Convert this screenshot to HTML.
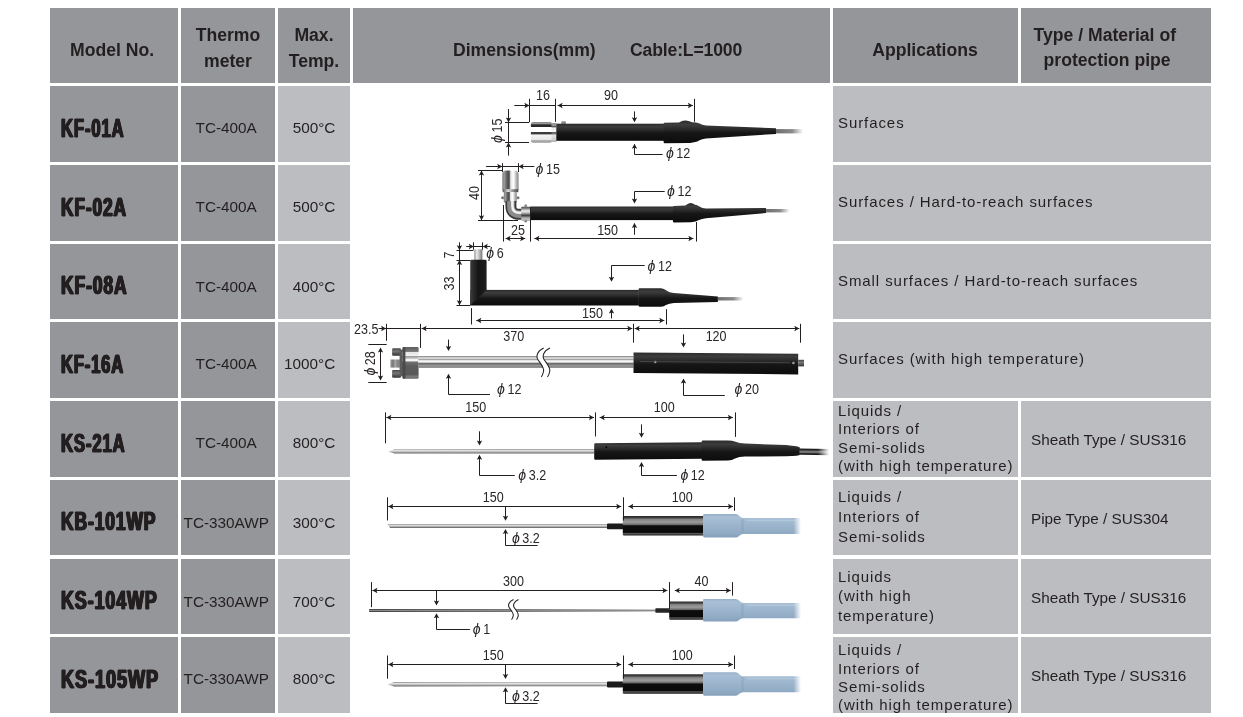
<!DOCTYPE html>
<html lang="en"><head><meta charset="utf-8"><title>Probe table</title>
<style>
html,body{margin:0;padding:0;background:#fff;}
body{width:1243px;height:717px;position:relative;overflow:hidden;font-family:"Liberation Sans",sans-serif;color:#231f20;}
.c{position:absolute;box-sizing:border-box;}
.h{display:flex;align-items:center;justify-content:center;text-align:center;font-weight:bold;font-size:17.6px;line-height:25.7px;}
.ht{position:relative;top:3.5px}
.h0 .ht{top:5.6px;left:-1.9px}
.h4 .ht{top:5.8px;left:-0.5px}
.h5 .ht{left:-11.2px;top:3.2px}
.h5 .ht i{font-style:normal;position:relative;left:2.3px}
.h3 .ht{width:100%;text-align:left}
.d1{position:absolute;left:100px;top:-10.5px}
.d2{position:absolute;left:277px;top:-10.5px;letter-spacing:-0.15px}
.m{display:flex;align-items:center;}
.mt{display:inline-block;font-weight:bold;font-size:25.2px;letter-spacing:1.3px;margin-left:11.2px;transform-origin:0 50%;white-space:nowrap;-webkit-text-stroke:0.8px #231f20;text-shadow:0.5px 0 0 #231f20,-0.5px 0 0 #231f20,1px 0 0 #231f20,-1px 0 0 #231f20;position:relative;top:4.3px}
.t{display:flex;align-items:center;justify-content:center;font-size:15.3px;}
.t span{position:relative;top:3.7px}
.t1 span{left:-1.8px}
.a{display:flex;align-items:center;font-size:15px;letter-spacing:0.92px;}
.al{margin-left:5px;line-height:18.4px;position:relative;top:-1px}
.a3 .al{line-height:20px;top:-1px}
.a4 .al{top:0px}
.ty{display:flex;align-items:center;font-size:15.3px;}
.ty span{margin-left:10px;position:relative;top:0px}
svg{position:absolute;left:0;top:0}
.dm polyline{fill:none;stroke:#231f20;stroke-width:1}
.dm .ah{fill:#231f20;stroke:none}
.dm text{font-family:"Liberation Sans",sans-serif;font-size:13.8px;fill:#2b2728}
.dm .ph{font-style:italic;font-size:15.5px}
</style></head>
<body>
<div class="c h h0" style="left:50px;top:8px;width:128px;height:74.50px;background:#959699"><div class="ht">Model No.</div></div>
<div class="c h h1" style="left:181px;top:8px;width:94px;height:74.50px;background:#959699"><div class="ht">Thermo<br>meter</div></div>
<div class="c h h2" style="left:278px;top:8px;width:72px;height:74.50px;background:#959699"><div class="ht">Max.<br>Temp.</div></div>
<div class="c h h3" style="left:353px;top:8px;width:477px;height:74.50px;background:#959699"><div class="ht"><span class="d1">Dimensions(mm)</span><span class="d2">Cable:L=1000</span></div></div>
<div class="c h h4" style="left:833px;top:8px;width:185px;height:74.50px;background:#959699"><div class="ht">Applications</div></div>
<div class="c h h5" style="left:1021px;top:8px;width:190px;height:74.50px;background:#959699"><div class="ht">Type / Material of<br><i>protection pipe</i></div></div>
<div class="c m" style="left:50px;top:86.1px;width:128px;height:75.60px;background:#959699"><span class="mt" style="top:4.3px;transform:scaleX(0.661)">KF-01A</span></div>
<div class="c t t1" style="left:181px;top:86.1px;width:94px;height:75.60px;background:#959699"><span style="top:4.5px">TC-400A</span></div>
<div class="c t" style="left:278px;top:86.1px;width:72px;height:75.60px;background:#bcbdc0"><span style="top:4.5px">500°C</span></div>
<div class="c a" style="left:833px;top:86.1px;width:378px;height:75.60px;background:#bcbdc0"><div class="al" style="top:-1.0px">Surfaces</div></div>
<div class="c m" style="left:50px;top:165.1px;width:128px;height:75.60px;background:#959699"><span class="mt" style="top:4.3px;transform:scaleX(0.687)">KF-02A</span></div>
<div class="c t t1" style="left:181px;top:165.1px;width:94px;height:75.60px;background:#959699"><span style="top:4.5px">TC-400A</span></div>
<div class="c t" style="left:278px;top:165.1px;width:72px;height:75.60px;background:#bcbdc0"><span style="top:4.5px">500°C</span></div>
<div class="c a" style="left:833px;top:165.1px;width:378px;height:75.60px;background:#bcbdc0"><div class="al" style="top:-1.0px">Surfaces / Hard-to-reach surfaces</div></div>
<div class="c m" style="left:50px;top:244.3px;width:128px;height:74.40px;background:#959699"><span class="mt" style="top:4.3px;transform:scaleX(0.693)">KF-08A</span></div>
<div class="c t t1" style="left:181px;top:244.3px;width:94px;height:74.40px;background:#959699"><span style="top:5.3px">TC-400A</span></div>
<div class="c t" style="left:278px;top:244.3px;width:72px;height:74.40px;background:#bcbdc0"><span style="top:5.3px">400°C</span></div>
<div class="c a" style="left:833px;top:244.3px;width:378px;height:74.40px;background:#bcbdc0"><div class="al" style="top:0.0px">Small surfaces / Hard-to-reach surfaces</div></div>
<div class="c m" style="left:50px;top:322.05px;width:128px;height:75.65px;background:#959699"><span class="mt" style="top:4.9px;transform:scaleX(0.657)">KF-16A</span></div>
<div class="c t t1" style="left:181px;top:322.05px;width:94px;height:75.65px;background:#959699"><span style="top:4.4px">TC-400A</span></div>
<div class="c t" style="left:278px;top:322.05px;width:72px;height:75.65px;background:#bcbdc0"><span style="top:4.4px;left:-4.4px">1000°C</span></div>
<div class="c a" style="left:833px;top:322.05px;width:378px;height:75.65px;background:#bcbdc0"><div class="al" style="top:-1.0px">Surfaces (with high temperature)</div></div>
<div class="c m" style="left:50px;top:401.05px;width:128px;height:75.65px;background:#959699"><span class="mt" style="top:4.3px;transform:scaleX(0.662)">KS-21A</span></div>
<div class="c t t1" style="left:181px;top:401.05px;width:94px;height:75.65px;background:#959699"><span style="top:4.4px">TC-400A</span></div>
<div class="c t" style="left:278px;top:401.05px;width:72px;height:75.65px;background:#bcbdc0"><span style="top:4.4px">800°C</span></div>
<div class="c a a4" style="left:833px;top:401.05px;width:185px;height:75.65px;background:#bcbdc0"><div class="al" style="top:0.0px">Liquids /<br>Interiors of<br>Semi-solids<br>(with high temperature)</div></div>
<div class="c ty" style="left:1021px;top:401.05px;width:190px;height:75.65px;background:#bcbdc0"><span style="top:0.7px">Sheath Type / SUS316</span></div>
<div class="c m" style="left:50px;top:480.2px;width:128px;height:74.40px;background:#959699"><span class="mt" style="top:4.3px;transform:scaleX(0.692)">KB-101WP</span></div>
<div class="c t t1" style="left:181px;top:480.2px;width:94px;height:74.40px;background:#959699"><span style="top:5.5px">TC-330AWP</span></div>
<div class="c t" style="left:278px;top:480.2px;width:72px;height:74.40px;background:#bcbdc0"><span style="top:5.5px">300°C</span></div>
<div class="c a a3" style="left:833px;top:480.2px;width:185px;height:74.40px;background:#bcbdc0"><div class="al" style="top:-0.2px">Liquids /<br>Interiors of<br>Semi-solids</div></div>
<div class="c ty" style="left:1021px;top:480.2px;width:190px;height:74.40px;background:#bcbdc0"><span style="top:1.8px">Pipe Type / SUS304</span></div>
<div class="c m" style="left:50px;top:559.2px;width:128px;height:74.40px;background:#959699"><span class="mt" style="top:4.6px;transform:scaleX(0.709)">KS-104WP</span></div>
<div class="c t t1" style="left:181px;top:559.2px;width:94px;height:74.40px;background:#959699"><span style="top:5.8px">TC-330AWP</span></div>
<div class="c t" style="left:278px;top:559.2px;width:72px;height:74.40px;background:#bcbdc0"><span style="top:5.8px">700°C</span></div>
<div class="c a a3" style="left:833px;top:559.2px;width:185px;height:74.40px;background:#bcbdc0"><div class="al" style="top:-0.3px;line-height:19.6px">Liquids<br>(with high<br>temperature)</div></div>
<div class="c ty" style="left:1021px;top:559.2px;width:190px;height:74.40px;background:#bcbdc0"><span style="top:1.8px">Sheath Type / SUS316</span></div>
<div class="c m" style="left:50px;top:637px;width:128px;height:75.70px;background:#959699"><span class="mt" style="top:4.6px;transform:scaleX(0.719)">KS-105WP</span></div>
<div class="c t t1" style="left:181px;top:637px;width:94px;height:75.70px;background:#959699"><span style="top:4.4px">TC-330AWP</span></div>
<div class="c t" style="left:278px;top:637px;width:72px;height:75.70px;background:#bcbdc0"><span style="top:4.4px">800°C</span></div>
<div class="c a a4" style="left:833px;top:637px;width:185px;height:75.70px;background:#bcbdc0"><div class="al" style="top:3.2px">Liquids /<br>Interiors of<br>Semi-solids<br>(with high temperature)</div></div>
<div class="c ty" style="left:1021px;top:637px;width:190px;height:75.70px;background:#bcbdc0"><span style="top:1.1px">Sheath Type / SUS316</span></div>
<svg width="1243" height="717" viewBox="0 0 1243 717">
<defs>
<linearGradient id="gB" x1="0" y1="0" x2="0" y2="1"><stop offset="0" stop-color="#2a2a2a"/><stop offset=".18" stop-color="#3d3d3d"/><stop offset=".32" stop-color="#303030"/><stop offset=".55" stop-color="#161616"/><stop offset="1" stop-color="#0c0c0c"/></linearGradient>
<linearGradient id="gB3" x1="0" y1="0" x2="0" y2="1"><stop offset="0" stop-color="#2a2a2a"/><stop offset=".68" stop-color="#2a2a2a"/><stop offset=".72" stop-color="#3f3f3f"/><stop offset=".8" stop-color="#2c2c2c"/><stop offset=".9" stop-color="#141414"/><stop offset="1" stop-color="#0c0c0c"/></linearGradient>
<linearGradient id="gBv" x1="0" y1="0" x2="1" y2="0"><stop offset="0" stop-color="#3e3e3e"/><stop offset="0.18" stop-color="#2c2c2c"/><stop offset="0.5" stop-color="#151515"/><stop offset="1" stop-color="#1e1e1e"/></linearGradient>
<linearGradient id="gS" x1="0" y1="0" x2="0" y2="1"><stop offset="0" stop-color="#8a8a8a"/><stop offset="0.1" stop-color="#9c9c9c"/><stop offset="0.13" stop-color="#2a2a2a"/><stop offset="0.22" stop-color="#2a2a2a"/><stop offset="0.26" stop-color="#ffffff"/><stop offset="0.46" stop-color="#ffffff"/><stop offset="0.49" stop-color="#3a3a3a"/><stop offset="0.58" stop-color="#3a3a3a"/><stop offset="0.62" stop-color="#f4f4f4"/><stop offset="0.85" stop-color="#e6e6e6"/><stop offset="0.89" stop-color="#b0b0b0"/><stop offset="1" stop-color="#9a9a9a"/></linearGradient>
<linearGradient id="gS2" x1="0" y1="0" x2="0" y2="1"><stop offset="0" stop-color="#777"/><stop offset="0.1" stop-color="#aaa"/><stop offset="0.18" stop-color="#555"/><stop offset="0.26" stop-color="#eee"/><stop offset="0.46" stop-color="#f4f4f4"/><stop offset="0.5" stop-color="#666"/><stop offset="0.58" stop-color="#777"/><stop offset="0.63" stop-color="#e4e4e4"/><stop offset="0.9" stop-color="#ccc"/><stop offset="1" stop-color="#999"/></linearGradient>
<linearGradient id="gS4" x1="0" y1="0" x2="0" y2="1"><stop offset="0" stop-color="#5e5e5e"/><stop offset="0.14" stop-color="#777"/><stop offset="0.17" stop-color="#e6e6e6"/><stop offset="0.27" stop-color="#f0f0f0"/><stop offset="0.3" stop-color="#9a9a9a"/><stop offset="0.36" stop-color="#c8c8c8"/><stop offset="0.4" stop-color="#fafafa"/><stop offset="0.44" stop-color="#f0f0f0"/><stop offset="0.47" stop-color="#707070"/><stop offset="0.6" stop-color="#5c5c5c"/><stop offset="0.88" stop-color="#585858"/><stop offset="0.91" stop-color="#7c7c7c"/><stop offset="1" stop-color="#6a6a6a"/></linearGradient>
<linearGradient id="gMid" x1="0" y1="0" x2="1" y2="0"><stop offset="0" stop-color="#9a9a9a"/><stop offset=".2" stop-color="#777"/><stop offset=".35" stop-color="#a8a8a8"/><stop offset=".55" stop-color="#808080"/><stop offset=".75" stop-color="#9c9c9c"/><stop offset="1" stop-color="#6a6a6a"/></linearGradient>
<linearGradient id="gPin" x1="0" y1="0" x2="1" y2="0"><stop offset="0" stop-color="#8e8e8e"/><stop offset=".3" stop-color="#ececec"/><stop offset=".6" stop-color="#bdbdbd"/><stop offset="1" stop-color="#767676"/></linearGradient>
<linearGradient id="gCol" x1="0" y1="0" x2="0" y2="1"><stop offset="0" stop-color="#4a4a4a"/><stop offset=".15" stop-color="#8a8a8a"/><stop offset=".3" stop-color="#f0f0f0"/><stop offset=".45" stop-color="#b8b8b8"/><stop offset=".62" stop-color="#3e3e3e"/><stop offset=".78" stop-color="#9a9a9a"/><stop offset=".9" stop-color="#d0d0d0"/><stop offset="1" stop-color="#6a6a6a"/></linearGradient>
<linearGradient id="gSd" x1="0" y1="0" x2="0" y2="1"><stop offset="0" stop-color="#444"/><stop offset=".4" stop-color="#777"/><stop offset="1" stop-color="#333"/></linearGradient>
<linearGradient id="gSv" x1="0" y1="0" x2="1" y2="0"><stop offset="0" stop-color="#7e7e7e"/><stop offset="0.12" stop-color="#9a9a9a"/><stop offset="0.3" stop-color="#5a5a5a"/><stop offset="0.42" stop-color="#4a4a4a"/><stop offset="0.52" stop-color="#e8e8e8"/><stop offset="0.7" stop-color="#ffffff"/><stop offset="0.85" stop-color="#b8b8b8"/><stop offset="1" stop-color="#8a8a8a"/></linearGradient>
<linearGradient id="gSv2" x1="0" y1="0" x2="1" y2="0"><stop offset="0" stop-color="#555"/><stop offset=".35" stop-color="#ddd"/><stop offset=".7" stop-color="#888"/><stop offset="1" stop-color="#444"/></linearGradient>
<linearGradient id="gSe" x1="0" y1="0" x2="1" y2="1"><stop offset="0" stop-color="#555"/><stop offset="0.5" stop-color="#8a8a8a"/><stop offset="1" stop-color="#6a6a6a"/></linearGradient>
<linearGradient id="gRod" x1="0" y1="0" x2="0" y2="1"><stop offset="0" stop-color="#6a6a6a"/><stop offset="0.08" stop-color="#bdbdbd"/><stop offset="0.2" stop-color="#dedede"/><stop offset="0.3" stop-color="#a2a2a2"/><stop offset="0.4" stop-color="#f2f2f2"/><stop offset="0.52" stop-color="#f8f8f8"/><stop offset="0.6" stop-color="#7a7a7a"/><stop offset="0.68" stop-color="#5e5e5e"/><stop offset="0.76" stop-color="#9a9a9a"/><stop offset="0.9" stop-color="#8c8c8c"/><stop offset="1" stop-color="#727272"/></linearGradient>
<linearGradient id="gRodS" x1="0" y1="0" x2="0" y2="1"><stop offset="0" stop-color="#8a8a8a"/><stop offset="0.3" stop-color="#e2e2e2"/><stop offset="0.6" stop-color="#bcbcbc"/><stop offset="1" stop-color="#5c5c5c"/></linearGradient>
<linearGradient id="gRodT" x1="0" y1="0" x2="0" y2="1"><stop offset="0" stop-color="#303030"/><stop offset="0.5" stop-color="#8c8c8c"/><stop offset="1" stop-color="#2a2a2a"/></linearGradient>
<linearGradient id="gG" x1="0" y1="0" x2="0" y2="1"><stop offset="0" stop-color="#2a2a2a"/><stop offset="0.08" stop-color="#3c3c3c"/><stop offset="0.18" stop-color="#868686"/><stop offset="0.32" stop-color="#9c9c9c"/><stop offset="0.44" stop-color="#6e6e6e"/><stop offset="0.5" stop-color="#0e0e0e"/><stop offset="0.84" stop-color="#0a0a0a"/><stop offset="0.9" stop-color="#5a5a5a"/><stop offset="0.95" stop-color="#3a3a3a"/><stop offset="1" stop-color="#1c1c1c"/></linearGradient>
<linearGradient id="gBl" x1="0" y1="0" x2="0" y2="1"><stop offset="0" stop-color="#96afc8"/><stop offset="0.12" stop-color="#a9c0d6"/><stop offset="0.3" stop-color="#a2bad2"/><stop offset="0.55" stop-color="#9ab3cb"/><stop offset="0.85" stop-color="#8fa9c3"/><stop offset="1" stop-color="#86a0bb"/></linearGradient>
<linearGradient id="gFade" x1="0" y1="0" x2="1" y2="0"><stop offset="0" stop-color="#fff" stop-opacity="0"/><stop offset=".91" stop-color="#fff" stop-opacity="0"/><stop offset=".985" stop-color="#fff" stop-opacity="1"/><stop offset="1" stop-color="#fff" stop-opacity="1"/></linearGradient>
<linearGradient id="gCab" x1="0" y1="0" x2="1" y2="0"><stop offset="0" stop-color="#6e6e6e"/><stop offset=".6" stop-color="#8a8a8a"/><stop offset="1" stop-color="#8a8a8a" stop-opacity="0"/></linearGradient>
<linearGradient id="gCab5" x1="0" y1="0" x2="0" y2="1"><stop offset="0" stop-color="#1c1c1c"/><stop offset=".22" stop-color="#2a2a2a"/><stop offset=".42" stop-color="#7c7c7c"/><stop offset=".62" stop-color="#6e6e6e"/><stop offset=".8" stop-color="#222"/><stop offset="1" stop-color="#1a1a1a"/></linearGradient>
<linearGradient id="gFade5" x1="0" y1="0" x2="1" y2="0"><stop offset="0" stop-color="#fff" stop-opacity="0"/><stop offset=".85" stop-color="#fff" stop-opacity="1"/><stop offset="1" stop-color="#fff" stop-opacity="1"/></linearGradient>
<linearGradient id="gCabD" x1="0" y1="0" x2="1" y2="0"><stop offset="0" stop-color="#2a2a2a"/><stop offset=".85" stop-color="#333"/><stop offset="1" stop-color="#444"/></linearGradient>
</defs>
<g>
<rect x="530.9" y="122" width="21.1" height="20.7" fill="url(#gS)" rx="2"/>
<rect x="551.5" y="123.2" width="5" height="18.6" fill="url(#gS2)"/>
<rect x="561.3" y="121.2" width="4.7" height="3.8" fill="#8c8c8c" rx="1.2"/>
<rect x="556.3" y="123.7" width="108.1" height="17.1" fill="url(#gB)"/>
<path d="M664.6,122.8 Q663.6,122.8 663.6,124 L663.6,142 Q663.6,143.2 664.8,143.2 L690,143 Q696,142.6 699,140.6 Q702,139.2 706,138.6 L776,133.9 L776,128.3 L706,125.6 Q702,125 699.5,123.6 Q696,122.2 692,122.2 Q688,120.4 685,120.6 Q682,120.8 679,122.4 Z" fill="url(#gB)"/>
<rect x="776" y="129.1" width="27" height="4.3" fill="url(#gCab)"/>
<path d="M502.3,190 L502.3,174.5 Q502.3,170.6 506.5,170.6 L514.3,170.6 Q518.6,170.6 518.6,174.5 L518.6,190 Z" fill="url(#gSv)"/>
<rect x="502.6" y="189.2" width="15.7" height="3" fill="url(#gSv2)"/>
<rect x="503.8" y="192" width="13" height="10.6" fill="url(#gSv)" rx="0.8"/>
<circle cx="502.6" cy="197.8" r="1.5" fill="#777"/><circle cx="518" cy="197.8" r="1.5" fill="#777"/>
<path d="M510.9,201 L510.9,206 Q510.9,214.3 519.5,214.3 L523,214.3" fill="none" stroke="#3c3c3c" stroke-width="11"/>
<path d="M510.9,201 L510.9,206 Q510.9,214.3 519.5,214.3 L523,214.3" fill="none" stroke="#8c8c8c" stroke-width="7.4"/>
<path d="M512.4,201 L512.4,206 Q512.4,212.8 519.5,212.8 L523,212.8" fill="none" stroke="#f2f2f2" stroke-width="2.6"/>
<rect x="521.2" y="206.7" width="9.3" height="13.9" fill="url(#gCol)" rx="0.8"/>
<circle cx="525.7" cy="205.8" r="1.5" fill="#8a8a8a"/><circle cx="525.7" cy="221.2" r="1.4" fill="#8a8a8a"/>
<rect x="530.3" y="206.5" width="143.1" height="13.6" fill="url(#gB)"/>
<path d="M673.9,206 Q672.9,206 672.9,207.2 L672.9,221.2 Q672.9,222.4 674.1,222.4 L691,222.3 Q696,221.8 699,220 Q702,218.8 706,218.2 L766.1,213 L766.1,208 L706,208.6 Q702,208.2 699.5,206.4 Q697,205 695,204.8 Q692.5,203 690.5,203.1 Q688,203.3 685.5,205.4 Z" fill="url(#gB)"/>
<rect x="766.1" y="209" width="23.5" height="3.4" fill="url(#gCab)"/>
<rect x="474.3" y="249.2" width="8.1" height="11.1" fill="url(#gPin)" rx="0.9"/>
<rect x="470.2" y="289.9" width="168.7" height="15.6" fill="url(#gB)"/>
<path d="M470.2,305.5 L486.6,289.9 L486.6,261 Q486.6,259.8 485.4,259.8 L471.4,259.8 Q470.2,259.8 470.2,261 Z" fill="url(#gBv)"/>
<path d="M639.6,288.3 Q638.6,288.3 638.6,289.5 L638.6,305.6 Q638.6,306.8 639.8,306.8 L661,306.8 Q664,306.6 666,305 Q669,303.4 674,303 L717.9,302 L717.9,296.4 L674,293 Q669,292.4 666.5,290.4 Q664,288.6 661,288.3 Z" fill="url(#gB)"/>
<rect x="717.9" y="297.1" width="25.5" height="3.4" fill="url(#gCab)"/>
<rect x="392.1" y="348.2" width="8.9" height="7.6" fill="url(#gSd)" rx="1.2"/>
<rect x="392.1" y="370" width="8.9" height="7.8" fill="url(#gSd)" rx="1.2"/>
<rect x="390.4" y="359.5" width="13.6" height="8.1" fill="url(#gMid)"/>
<rect x="399.6" y="349.6" width="4.4" height="26.8" fill="#5c5c5c"/>
<rect x="402.6" y="347" width="16" height="31.8" fill="url(#gS4)" rx="1.2"/>
<rect x="402.6" y="347" width="2.8" height="31.8" fill="#4a4a4a" rx="1"/>
<rect x="418.3" y="356" width="215.3" height="11.8" fill="url(#gRod)"/>
<path d="M543.7,347.9 C538,350.5 535,356 538.5,360.5 C541,364 544.5,368 543.5,371.5 C543,374 542,376 541.2,376.9 L547.4,376.9 C548.2,376 549.2,374 549.7,371.5 C550.7,368 547.2,364 544.7,360.5 C541.2,356 544.2,350.5 549.9,347.9 Z" fill="#fff"/>
<path d="M543.7,347.9 C538,350.5 535,356 538.5,360.5 C541,364 544.5,368 543.5,371.5 C543,374 542,376 541.2,376.9 M549.9,347.9 C544.2,350.5 541.2,356 544.7,360.5 C547.2,364 550.7,368 549.7,371.5 C549.2,374 548.2,376 547.4,376.9" fill="none" stroke="#231f20" stroke-width="1.05"/>
<path d="M633.5,352.4 L798.2,353.8 L798.2,374.4 L633.5,373 Z" fill="url(#gB)"/>
<rect x="798.2" y="359.8" width="5.8" height="6.6" fill="url(#gSd)"/>
<circle cx="655.3" cy="362" r="1.2" fill="#aaa"/><circle cx="793.4" cy="363" r="1.3" fill="#999"/>
<rect x="640" y="361" width="150" height="1" fill="#555" opacity="0.7" transform="rotate(0.45 640 361)"/>
<path d="M388.3,451.5 L394.5,449.2 L594.5,449 L594.5,453.5 L394.5,453.6 Z" fill="url(#gRodS)"/>
<path d="M595.2,443.3 Q594.2,443.3 594.2,444.5 L594.2,458.6 Q594.2,459.8 595.4,459.8 L702,458.7 L702,442.3 Z" fill="url(#gB)"/>
<path d="M703,440.6 Q701.6,440.6 701.6,442 L701.6,459.4 Q701.6,460.8 703,460.8 L728,460.6 Q732,460.2 735,458.4 Q739,456.8 745,456.6 L786,456.3 Q799.9,456 799.9,454.8 L799.9,447.7 Q799.9,446.3 786,445 L745,443.6 Q739,443.2 735.5,441.8 Q732,440.4 728,440.4 Z" fill="url(#gB)"/>
<circle cx="606.4" cy="447.2" r="0.9" fill="#000"/>
<rect x="799.6" y="448.6" width="30.4" height="6.2" fill="url(#gCab5)" transform="rotate(0.8 799.6 451.7)"/>
<rect x="818" y="447" width="13" height="10" fill="url(#gFade5)"/>
<path d="M387.4,524 L607.5,524 L607.5,527.9 L390,527.9 Z" fill="url(#gRodS)"/>
<rect x="607" y="523.4" width="16.2" height="5.8" fill="#1b1b1b" rx="0.8"/>
<rect x="622.8" y="516" width="81.7" height="19.5" fill="url(#gG)" rx="1.2"/>
<path d="M704.4,514.1 Q703,514.1 703,515.5 L703,536.1 Q703,537.5 704.4,537.5 L735.5,537.5 Q737.8,537.5 739,535.9 Q741,534 743.5,534 L802,534 L802,518 L743.5,518 Q741,518 739,515.7 Q737.8,514.1 735.5,514.1 Z" fill="url(#gBl)"/>
<rect x="747" y="519.6" width="50" height="1.6" fill="#c3d3e2" opacity="0.5"/>
<rect x="741" y="519" width="3" height="14" fill="#7f9ab6" opacity="0.3"/>
<rect x="703" y="513.6" width="99.5" height="24.4" fill="url(#gFade)"/>
<path d="M387.6,684.2 L394,682.1 L607.5,682.2 L607.5,686.2 L394,686.5 Z" fill="url(#gRodS)"/>
<rect x="607" y="681.6" width="16.2" height="5.8" fill="#1b1b1b" rx="0.8"/>
<rect x="622.8" y="674.2" width="81.7" height="19.5" fill="url(#gG)" rx="1.2"/>
<path d="M704.4,672.3 Q703,672.3 703,673.7 L703,694.3 Q703,695.7 704.4,695.7 L735.5,695.7 Q737.8,695.7 739,694.1 Q741,692.2 743.5,692.2 L802,692.2 L802,676.2 L743.5,676.2 Q741,676.2 739,673.9 Q737.8,672.3 735.5,672.3 Z" fill="url(#gBl)"/>
<rect x="747" y="677.8" width="50" height="1.6" fill="#c3d3e2" opacity="0.5"/>
<rect x="741" y="677.2" width="3" height="14" fill="#7f9ab6" opacity="0.3"/>
<rect x="703" y="671.8" width="99.5" height="24.4" fill="url(#gFade)"/>
<path d="M369.1,609.1 L513,609.2 L655.5,609.8 L655.5,611.3 L513,611.8 L369.1,611.9 Z" fill="url(#gRodT)"/>
<path d="M513.5,599.4 C509.5,601.23 507.1,605.08 509.6,608.13 C511.4,610.57 513.9,613.61 513.2,615.84 C512.8,617.67 512.1,619.09 511.5,619.7 L516.5,619.7 C517.1,619.09 517.8,617.67 518.2,615.84 C518.9,613.61 516.4,610.57 514.6,608.13 C512.1,605.08 514.5,601.23 518.5,599.4 Z" fill="#fff"/>
<path d="M513.5,599.4 C509.5,601.23 507.1,605.08 509.6,608.13 C511.4,610.57 513.9,613.61 513.2,615.84 C512.8,617.67 512.1,619.09 511.5,619.7 M518.5,599.4 C514.5,601.23 512.1,605.08 514.6,608.13 C516.4,610.57 518.9,613.61 518.2,615.84 C517.8,617.67 517.1,619.09 516.5,619.7" fill="none" stroke="#231f20" stroke-width="1.05"/>
<rect x="655.3" y="608.2" width="15" height="4.5" fill="#262626" rx="0.8"/>
<rect x="669.2" y="601.4" width="35.3" height="18.3" fill="url(#gG)" rx="1.2"/>
<path d="M704.4,598.9 Q703,598.9 703,600.3 L703,620.2 Q703,621.6 704.4,621.6 L735.5,621.6 Q737.8,621.6 739,620 Q741,618.2 743.5,618.2 L802,618.2 L802,602.9 L743.5,602.9 Q741,602.9 739,600.5 Q737.8,598.9 735.5,598.9 Z" fill="url(#gBl)"/>
<rect x="747" y="604.5" width="50" height="1.6" fill="#c3d3e2" opacity="0.5"/>
<rect x="741" y="603.9" width="3" height="13.3" fill="#7f9ab6" opacity="0.3"/>
<rect x="703" y="598.4" width="99.5" height="23.7" fill="url(#gFade)"/>
</g>
<g class="dm">
<polyline points="514.3 105.5 529.4 105.5"/>
<polygon class="ah" points="529.4 105.5 524.4 102.8 525.4 105.5 524.4 108.2"/>
<polyline points="529.5 98.8 529.5 122.3"/>
<polyline points="529.4 105.5 555.3 105.5"/>
<polyline points="555.5 98.8 555.5 121.8"/>
<polyline points="557.6 105.5 692.9 105.5"/>
<polygon class="ah" points="557.6 105.5 562.6 102.8 561.6 105.5 562.6 108.2"/>
<polygon class="ah" points="692.9 105.5 687.9 102.8 688.9 105.5 687.9 108.2"/>
<polyline points="694.5 98.8 694.5 121.8"/>
<text transform="translate(543,100.05) scale(0.91,1)" text-anchor="middle">16</text>
<text transform="translate(611.1,100.05) scale(0.91,1)" text-anchor="middle">90</text>
<polyline points="508.5 109 508.5 122"/>
<polygon class="ah" points="508.5 122.4 505.8 117.4 508.5 118.4 511.2 117.4"/>
<polyline points="505 122.5 529 122.5"/>
<polyline points="505 142.5 529 142.5"/>
<polyline points="508.5 122.6 508.5 142.2"/>
<polygon class="ah" points="508.5 142.6 505.8 147.6 508.5 146.6 511.2 147.6"/>
<polyline points="508.5 143 508.5 155.6"/>
<text transform="translate(502.45,130.7) rotate(-90) scale(0.91,1)" text-anchor="middle"><tspan class="ph">ϕ</tspan><tspan dx="2.9">15</tspan></text>
<polyline points="634.5 111.4 634.5 121"/>
<polygon class="ah" points="634.5 122.2 631.8 117.2 634.5 118.2 637.2 117.2"/>
<polygon class="ah" points="634.5 143.7 631.8 148.7 634.5 147.7 637.2 148.7"/>
<polyline points="634.5 144.5 634.5 154.5 662.6 154.5"/>
<text transform="translate(665.9,158.25) scale(0.91,1)"><tspan class="ph">ϕ</tspan><tspan dx="2.9">12</tspan></text>
<polyline points="486.1 166.5 502.2 166.5"/>
<polygon class="ah" points="502.2 166.5 497.2 163.8 498.2 166.5 497.2 169.2"/>
<polyline points="502.5 163.2 502.5 172"/>
<polyline points="518.5 163.2 518.5 172"/>
<polyline points="502.2 166.5 518.3 166.5"/>
<polygon class="ah" points="518.6 166.5 523.6 163.8 522.6 166.5 523.6 169.2"/>
<polyline points="519 166.5 534.4 166.5"/>
<text transform="translate(535.6,173.55) scale(0.91,1)"><tspan class="ph">ϕ</tspan><tspan dx="2.9">15</tspan></text>
<polyline points="481.5 170.5 481.5 220.3"/>
<polygon class="ah" points="481.5 170.5 478.8 175.5 481.5 174.5 484.2 175.5"/>
<polygon class="ah" points="481.5 220.3 478.8 215.3 481.5 216.3 484.2 215.3"/>
<polyline points="478 170.5 502 170.5"/>
<polyline points="478 220.5 518 220.5"/>
<text transform="translate(479.25,193) rotate(-90) scale(0.91,1)" text-anchor="middle">40</text>
<polyline points="503.5 205 503.5 241.6"/>
<polyline points="530.5 207 530.5 241.6"/>
<text transform="translate(518,234.75) scale(0.91,1)" text-anchor="middle">25</text>
<polyline points="505.6 238.5 525.2 238.5"/>
<polygon class="ah" points="505.6 238.5 510.6 235.8 509.6 238.5 510.6 241.2"/>
<polygon class="ah" points="525.2 238.5 520.2 235.8 521.2 238.5 520.2 241.2"/>
<polyline points="534.4 238.5 693.4 238.5"/>
<polygon class="ah" points="534.4 238.5 539.4 235.8 538.4 238.5 539.4 241.2"/>
<polygon class="ah" points="693.4 238.5 688.4 235.8 689.4 238.5 688.4 241.2"/>
<polyline points="696.5 222 696.5 241.6"/>
<text transform="translate(607.6,234.75) scale(0.91,1)" text-anchor="middle">150</text>
<polyline points="634.5 202 634.5 191.5 664.7 191.5"/>
<polygon class="ah" points="634.5 203.6 631.8 198.6 634.5 199.6 637.2 198.6"/>
<text transform="translate(667,196.15) scale(0.91,1)"><tspan class="ph">ϕ</tspan><tspan dx="2.9">12</tspan></text>
<polygon class="ah" points="634.5 222.9 631.8 227.9 634.5 226.9 637.2 227.9"/>
<polyline points="634.5 223.5 634.5 234.8"/>
<polyline points="459.5 242.4 459.5 305.2"/>
<polygon class="ah" points="459.5 250.2 456.8 245.2 459.5 246.2 462.2 245.2"/>
<polygon class="ah" points="459.5 260.1 456.8 265.1 459.5 264.1 462.2 265.1"/>
<polygon class="ah" points="459.5 305.2 456.8 300.2 459.5 301.2 462.2 300.2"/>
<polyline points="456.5 250.5 473.4 250.5"/>
<polyline points="456.5 260.5 470.2 260.5"/>
<polyline points="456.5 305.5 470.2 305.5"/>
<text transform="translate(453.75,255) rotate(-90) scale(0.91,1)" text-anchor="middle">7</text>
<text transform="translate(454.05,283.5) rotate(-90) scale(0.91,1)" text-anchor="middle">33</text>
<polyline points="466.2 246.5 473.8 246.5"/>
<polygon class="ah" points="473.8 246.5 468.8 243.8 469.8 246.5 468.8 249.2"/>
<polyline points="473.5 242.4 473.5 249.7"/>
<polyline points="482.5 242.4 482.5 249.7"/>
<polyline points="473.8 246.5 482.6 246.5"/>
<polygon class="ah" points="482.8 246.5 487.8 243.8 486.8 246.5 487.8 249.2"/>
<polyline points="483.1 246.5 490.3 246.5"/>
<text transform="translate(486.3,258.15) scale(0.91,1)"><tspan class="ph">ϕ</tspan><tspan dx="2.9">6</tspan></text>
<polyline points="471.5 308.1 471.5 324.5"/>
<text transform="translate(592.5,317.95) scale(0.91,1)" text-anchor="middle">150</text>
<polygon class="ah" points="611.5 308.5 608.8 313.5 611.5 312.5 614.2 313.5"/>
<polyline points="611.5 309.5 611.5 318.4"/>
<polyline points="476.3 320.5 664.3 320.5"/>
<polygon class="ah" points="476.3 320.5 481.3 317.8 480.3 320.5 481.3 323.2"/>
<polygon class="ah" points="664.3 320.5 659.3 317.8 660.3 320.5 659.3 323.2"/>
<polyline points="666.5 309.2 666.5 324.5"/>
<polyline points="611.5 280 611.5 265.5 644.7 265.5"/>
<polygon class="ah" points="611.5 281.8 608.8 276.8 611.5 277.8 614.2 276.8"/>
<text transform="translate(647.6,270.55) scale(0.91,1)"><tspan class="ph">ϕ</tspan><tspan dx="2.9">12</tspan></text>
<text transform="translate(354,333.75) scale(0.91,1)">23.5</text>
<polyline points="378.6 328.5 386.1 328.5"/>
<polygon class="ah" points="386.1 328.5 381.1 325.8 382.1 328.5 381.1 331.2"/>
<polyline points="386.5 323.8 386.5 340.8"/>
<polyline points="386.1 328.5 420.5 328.5"/>
<polyline points="420.5 323.8 420.5 347.9"/>
<polyline points="421.6 328.5 632.3 328.5"/>
<polygon class="ah" points="421.6 328.5 426.6 325.8 425.6 328.5 426.6 331.2"/>
<polygon class="ah" points="632.3 328.5 627.3 325.8 628.3 328.5 627.3 331.2"/>
<polyline points="633.5 323.8 633.5 342.7"/>
<polyline points="634.7 328.5 799.3 328.5"/>
<polygon class="ah" points="634.7 328.5 639.7 325.8 638.7 328.5 639.7 331.2"/>
<polygon class="ah" points="799.3 328.5 794.3 325.8 795.3 328.5 794.3 331.2"/>
<polyline points="800.5 323.8 800.5 342.7"/>
<text transform="translate(513.7,341.05) scale(0.91,1)" text-anchor="middle">370</text>
<text transform="translate(716.1,341.05) scale(0.91,1)" text-anchor="middle">120</text>
<polyline points="380.5 348 380.5 380"/>
<polygon class="ah" points="380.5 347.4 377.8 352.4 380.5 351.4 383.2 352.4"/>
<polygon class="ah" points="380.5 380.4 377.8 375.4 380.5 376.4 383.2 375.4"/>
<polyline points="368.3 344.5 386.7 344.5"/>
<polyline points="368.3 382.5 386.7 382.5"/>
<text transform="translate(375.05,363.4) rotate(-90) scale(0.91,1)" text-anchor="middle"><tspan class="ph">ϕ</tspan><tspan dx="2.9">28</tspan></text>
<polyline points="448.5 339.6 448.5 349.5"/>
<polygon class="ah" points="448.5 351 445.8 346 448.5 347 451.2 346"/>
<polygon class="ah" points="448.5 373.8 445.8 378.8 448.5 377.8 451.2 378.8"/>
<polyline points="448.5 375 448.5 394.5 490 394.5"/>
<text transform="translate(497.1,394.15) scale(0.91,1)"><tspan class="ph">ϕ</tspan><tspan dx="2.9">12</tspan></text>
<polyline points="683.5 334.4 683.5 346"/>
<polygon class="ah" points="683.5 347.5 680.8 342.5 683.5 343.5 686.2 342.5"/>
<polygon class="ah" points="683.5 378.6 680.8 383.6 683.5 382.6 686.2 383.6"/>
<polyline points="683.5 379.5 683.5 395.5 724.8 395.5"/>
<text transform="translate(734.5,394.15) scale(0.91,1)"><tspan class="ph">ϕ</tspan><tspan dx="2.9">20</tspan></text>
<polyline points="385.5 412.4 385.5 443.3"/>
<polyline points="386.4 417.5 594 417.5"/>
<polygon class="ah" points="386.4 417.5 391.4 414.8 390.4 417.5 391.4 420.2"/>
<polygon class="ah" points="594 417.5 589 414.8 590 417.5 589 420.2"/>
<polyline points="595.5 412.4 595.5 436.5"/>
<polyline points="599.7 417.5 732.9 417.5"/>
<polygon class="ah" points="599.7 417.5 604.7 414.8 603.7 417.5 604.7 420.2"/>
<polygon class="ah" points="732.9 417.5 727.9 414.8 728.9 417.5 727.9 420.2"/>
<polyline points="735.5 412.4 735.5 436.9"/>
<text transform="translate(475.8,411.75) scale(0.91,1)" text-anchor="middle">150</text>
<text transform="translate(664.3,411.75) scale(0.91,1)" text-anchor="middle">100</text>
<polyline points="479.5 431.3 479.5 444"/>
<polygon class="ah" points="479.5 445.4 476.8 440.4 479.5 441.4 482.2 440.4"/>
<polygon class="ah" points="479.5 454.7 476.8 459.7 479.5 458.7 482.2 459.7"/>
<polyline points="479.5 456 479.5 475.5 514.8 475.5"/>
<text transform="translate(518.3,479.55) scale(0.91,1)"><tspan class="ph">ϕ</tspan><tspan dx="2.9">3.2</tspan></text>
<polyline points="641.5 424.4 641.5 436.3"/>
<polygon class="ah" points="641.5 437.7 638.8 432.7 641.5 433.7 644.2 432.7"/>
<polygon class="ah" points="641.5 462 638.8 467 641.5 466 644.2 467"/>
<polyline points="641.5 463 641.5 475.5 676.9 475.5"/>
<text transform="translate(680.4,479.55) scale(0.91,1)"><tspan class="ph">ϕ</tspan><tspan dx="2.9">12</tspan></text>
<polyline points="387.5 497.3 387.5 520.5"/>
<polyline points="388.3 506.5 621.2 506.5"/>
<polygon class="ah" points="388.3 506.5 393.3 503.8 392.3 506.5 393.3 509.2"/>
<polygon class="ah" points="621.2 506.5 616.2 503.8 617.2 506.5 616.2 509.2"/>
<polyline points="623.5 497.3 623.5 520.5"/>
<polyline points="628.4 506.5 733 506.5"/>
<polygon class="ah" points="628.4 506.5 633.4 503.8 632.4 506.5 633.4 509.2"/>
<polygon class="ah" points="733 506.5 728 503.8 729 506.5 728 509.2"/>
<polyline points="734.5 497.3 734.5 510.8"/>
<text transform="translate(493.2,502.05) scale(0.91,1)" text-anchor="middle">150</text>
<text transform="translate(682.3,502.05) scale(0.91,1)" text-anchor="middle">100</text>
<polyline points="505.5 506.4 505.5 519.4"/>
<polygon class="ah" points="505.5 520.7 502.8 515.7 505.5 516.7 508.2 515.7"/>
<polygon class="ah" points="505.5 529 502.8 534 505.5 533 508.2 534"/>
<polyline points="505.5 530 505.5 545.5 537.6 545.5"/>
<text transform="translate(511.9,543.15) scale(0.91,1)"><tspan class="ph">ϕ</tspan><tspan dx="2.9">3.2</tspan></text>
<polyline points="387.5 655.5 387.5 678.7"/>
<polyline points="388.3 664.5 621.2 664.5"/>
<polygon class="ah" points="388.3 664.5 393.3 661.8 392.3 664.5 393.3 667.2"/>
<polygon class="ah" points="621.2 664.5 616.2 661.8 617.2 664.5 616.2 667.2"/>
<polyline points="623.5 655.5 623.5 678.7"/>
<polyline points="628.4 664.5 733 664.5"/>
<polygon class="ah" points="628.4 664.5 633.4 661.8 632.4 664.5 633.4 667.2"/>
<polygon class="ah" points="733 664.5 728 661.8 729 664.5 728 667.2"/>
<polyline points="734.5 655.5 734.5 669"/>
<text transform="translate(493.2,660.25) scale(0.91,1)" text-anchor="middle">150</text>
<text transform="translate(682.3,660.25) scale(0.91,1)" text-anchor="middle">100</text>
<polyline points="505.5 664.6 505.5 677.6"/>
<polygon class="ah" points="505.5 678.9 502.8 673.9 505.5 674.9 508.2 673.9"/>
<polygon class="ah" points="505.5 687.2 502.8 692.2 505.5 691.2 508.2 692.2"/>
<polyline points="505.5 688.2 505.5 703.5 537.6 703.5"/>
<text transform="translate(511.9,701.35) scale(0.91,1)"><tspan class="ph">ϕ</tspan><tspan dx="2.9">3.2</tspan></text>
<polyline points="371.5 582.1 371.5 607.2"/>
<polyline points="372.4 590.5 667.4 590.5"/>
<polygon class="ah" points="372.4 590.5 377.4 587.8 376.4 590.5 377.4 593.2"/>
<polygon class="ah" points="667.4 590.5 662.4 587.8 663.4 590.5 662.4 593.2"/>
<polyline points="669.5 582.1 669.5 609.1"/>
<polyline points="674.8 590.5 730.8 590.5"/>
<polygon class="ah" points="674.8 590.5 679.8 587.8 678.8 590.5 679.8 593.2"/>
<polygon class="ah" points="730.8 590.5 725.8 587.8 726.8 590.5 725.8 593.2"/>
<polyline points="732.5 582.1 732.5 595.6"/>
<text transform="translate(513.4,585.85) scale(0.91,1)" text-anchor="middle">300</text>
<text transform="translate(701.6,585.85) scale(0.91,1)" text-anchor="middle">40</text>
<polyline points="436.5 590.8 436.5 604"/>
<polygon class="ah" points="436.5 605.4 433.8 600.4 436.5 601.4 439.2 600.4"/>
<polygon class="ah" points="436.5 613.3 433.8 618.3 436.5 617.3 439.2 618.3"/>
<polyline points="436.5 614.5 436.5 629.5 469.9 629.5"/>
<text transform="translate(472.8,634.15) scale(0.91,1)"><tspan class="ph">ϕ</tspan><tspan dx="2.9">1</tspan></text>
</g>
</svg>
</body></html>
